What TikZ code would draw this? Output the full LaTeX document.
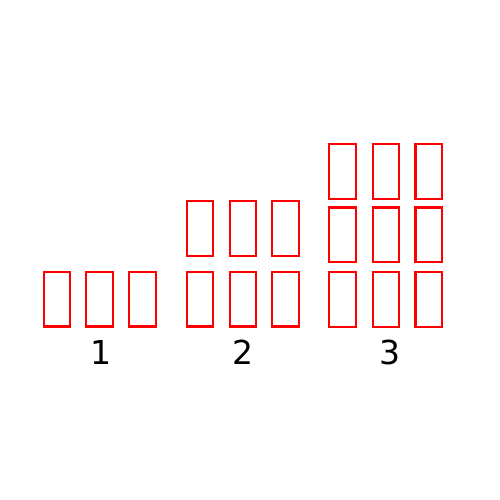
\documentclass[tikz,border=0pt]{standalone}
\usepackage{fontspec}
\setmainfont{DejaVu Sans}
\begin{document}
\begin{tikzpicture}[x=1pt,y=-1pt,
  cell/.style={draw=red,line width=2.1pt,minimum width=26.5pt,minimum height=54.5pt,inner sep=0pt,outer sep=0pt},
  lab/.style={anchor=base,font=\fontsize{33}{36}\selectfont,inner sep=0pt}]
\useasboundingbox (0,0) rectangle (500,500);
% group 1
\node[cell] (a1) at (56.9,299.2) {};
\node[cell] (a2) at (99.5,299.2) {};
\node[cell] (a3) at (142.5,299.2) {};
% group 2
\node[cell] (b1) at (199.8,228.3) {};
\node[cell] (b2) at (242.8,228.3) {};
\node[cell] (b3) at (285.5,228.3) {};
\node[cell] (b4) at (199.8,299.2) {};
\node[cell] (b5) at (242.8,299.2) {};
\node[cell] (b6) at (285.5,299.2) {};
% group 3
\node[cell] (c1) at (342.5,171.3) {};
\node[cell] (c2) at (385.8,171.3) {};
\node[cell] (c3) at (428.7,171.3) {};
\node[cell] (c4) at (342.5,234.7) {};
\node[cell] (c5) at (385.8,234.7) {};
\node[cell] (c6) at (428.7,234.7) {};
\node[cell] (c7) at (342.5,299.4) {};
\node[cell] (c8) at (385.8,299.4) {};
\node[cell] (c9) at (428.7,299.4) {};
% labels
\node[lab] (l1) at (101,364.5) {1};
\node[lab] (l2) at (243,364.5) {2};
\node[lab] (l3) at (390,364.5) {3};
\end{tikzpicture}
\end{document}
